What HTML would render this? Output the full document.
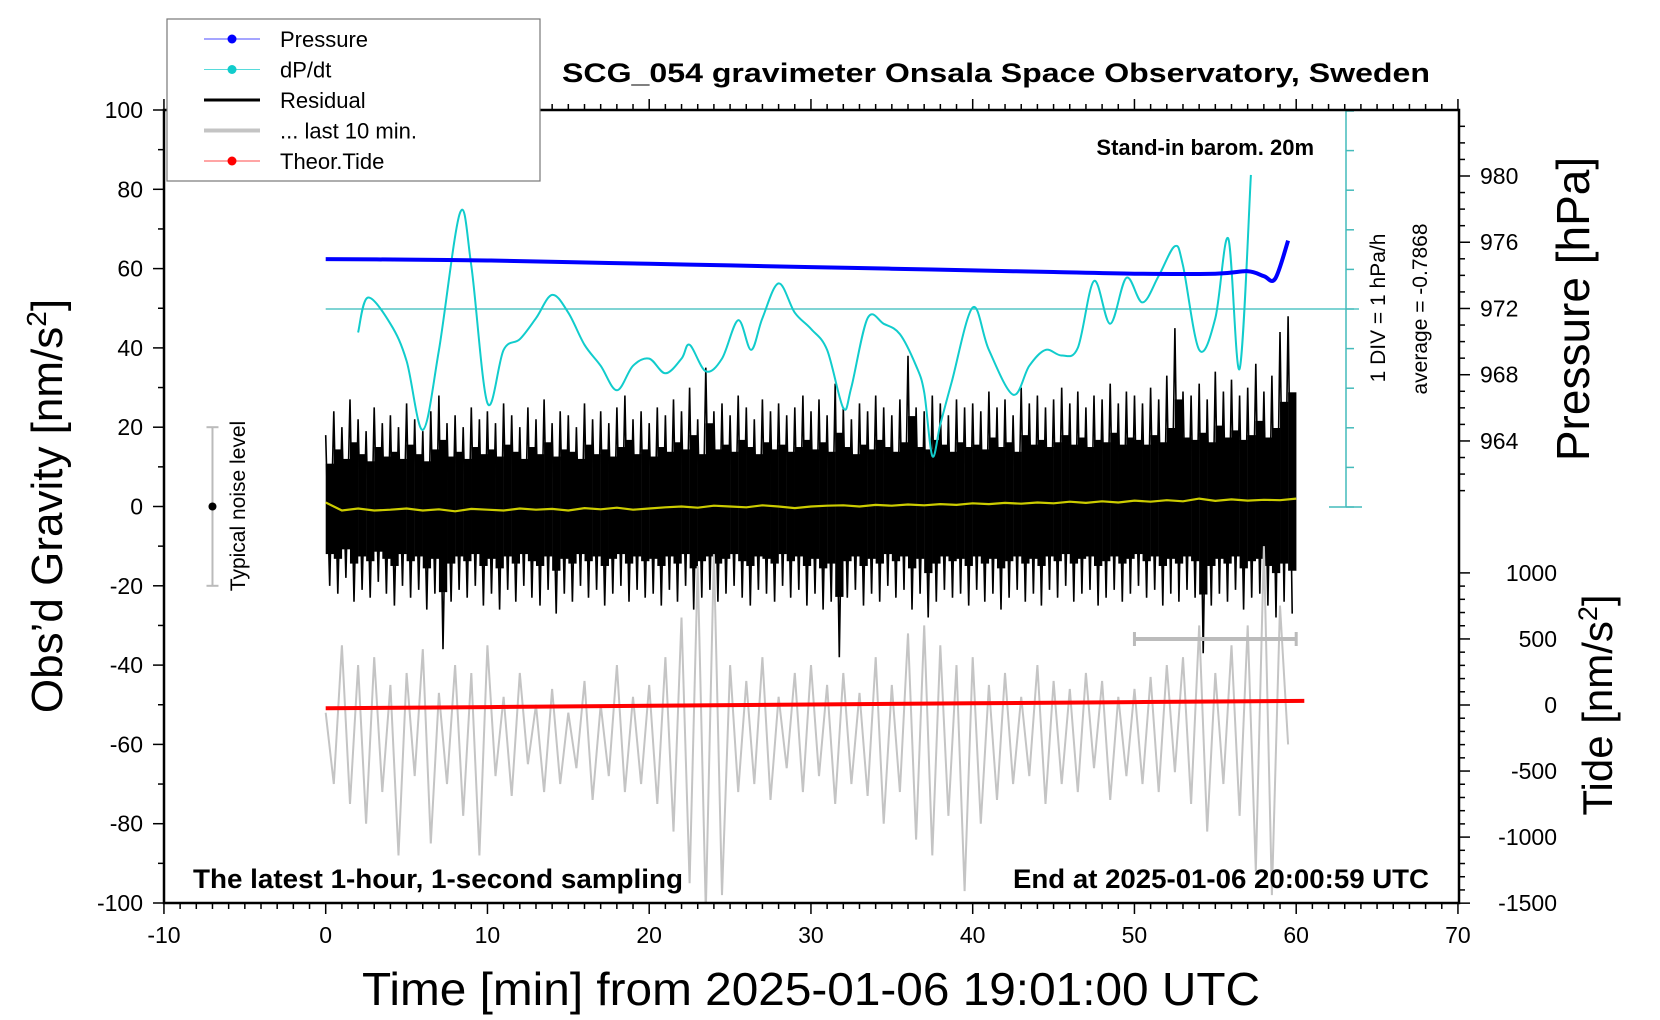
<!DOCTYPE html>
<html><head><meta charset="utf-8"><style>
html,body{margin:0;padding:0;background:#fff}
svg{display:block;font-family:"Liberation Sans",Arial,sans-serif}
</style></head><body>
<svg id="chart" width="1660" height="1020" viewBox="0 0 1660 1020" xmlns="http://www.w3.org/2000/svg">
<rect width="1660" height="1020" fill="#fff"/>
<g id="layer"></g>
</svg>
<script>
// ---- data arrays ----
const residHi=[18,24,20,27,22,19,25,21,23,20,26,22,19,24,28,21,23,20,25,22,
24,21,26,23,20,25,22,27,21,24,23,20,26,22,24,21,25,28,22,24,
21,25,23,27,24,30,22,35,24,26,23,28,25,22,27,24,26,23,25,28,
24,27,23,31,25,22,26,24,28,25,23,27,38,25,24,28,26,23,27,25,
26,24,29,25,27,23,30,26,28,25,27,30,26,29,25,28,27,31,26,29,
28,26,30,27,33,45,29,28,31,27,34,29,32,28,30,36,29,33,44,48];
const residLo=[-20,-22,-18,-24,-21,-23,-19,-22,-25,-20,-23,-21,-26,-22,-36,-24,-21,-23,-20,-25,
-22,-26,-21,-24,-20,-23,-25,-21,-27,-22,-24,-20,-23,-21,-25,-22,-20,-24,-21,-23,
-22,-25,-21,-24,-20,-26,-23,-21,-24,-22,-20,-23,-25,-21,-22,-24,-20,-23,-21,-25,
-22,-26,-24,-38,-23,-21,-25,-22,-24,-20,-23,-21,-26,-22,-28,-24,-21,-23,-22,-25,
-21,-24,-22,-26,-23,-21,-24,-22,-25,-21,-23,-20,-24,-22,-21,-25,-23,-21,-24,-22,
-20,-23,-21,-25,-22,-24,-21,-23,-37,-25,-22,-24,-21,-26,-23,-22,-25,-28,-24,-27];
const last10=[-52,-70,-35,-75,-40,-80,-38,-72,-45,-88,-42,-68,-36,-85,-47,-70,-40,-78,-42,-88,
-35,-68,-48,-73,-42,-65,-50,-72,-46,-70,-52,-66,-44,-74,-50,-68,-40,-72,-48,-70,
-45,-75,-38,-82,-28,-95,-15,-102,-12,-98,-40,-72,-44,-70,-38,-74,-48,-66,-42,-72,
-40,-68,-45,-75,-42,-70,-47,-73,-38,-80,-45,-72,-32,-84,-30,-88,-35,-78,-40,-97,
-38,-80,-45,-74,-42,-70,-48,-68,-40,-75,-44,-70,-46,-72,-42,-66,-44,-74,-48,-68,
-46,-70,-43,-72,-40,-67,-38,-75,-30,-82,-42,-70,-35,-78,-30,-92,-10,-98,-25,-60];
const smooth=[1,-1,-0.5,-1,-0.8,-0.5,-1,-0.7,-1.2,-0.6,-0.8,-1,-0.5,-0.8,-0.6,-1,-0.4,-0.7,-0.3,-0.8,-0.5,-0.2,0,-0.3,0.2,0,-0.2,0.3,0,-0.4,0,0.2,0.3,0,0.4,0.2,0.5,0.3,0.6,0.4,0.8,0.6,0.9,0.7,1,0.8,1.2,0.9,1.3,1,1.5,1.2,1.6,1.3,2,1.4,1.8,1.5,1.7,1.6,2];
const presT=[0,5,10,15,20,25,30,35,40,45,50,55,57,58,58.7,59.5];
const presV=[974.98,974.95,974.9,974.8,974.7,974.6,974.5,974.4,974.3,974.2,974.1,974.1,974.25,973.95,973.8,976.1];
const dpT=[2,2.6,4,5,6,7,8.3,9,10,11,12,13,14,15,16,17,18,19,20,21,22,22.5,23.5,24.5,25.5,26.3,27,28,29,30,31,32,32.5,33.5,34.5,35.5,36.5,37,37.5,38,38.7,40,41,42.5,43.5,44.5,45.5,46.5,47.5,48.5,49.5,50.5,51.5,52.5,53,54,55,55.8,56.5,57.2];
const dpV=[-1.38,-0.50,-1.16,-2.10,-3.84,-1.83,1.64,0.31,-3.16,-1.82,-1.55,-1.02,-0.43,-0.88,-1.69,-2.22,-2.84,-2.22,-2.04,-2.41,-2.04,-1.69,-2.36,-2.04,-1.07,-1.82,-1.02,-0.14,-0.88,-1.29,-1.82,-3.29,-2.76,-1.02,-1.16,-1.42,-2.22,-2.89,-4.50,-3.70,-2.63,-0.75,-1.82,-2.95,-2.22,-1.82,-1.96,-1.77,-0.08,-1.16,0.00,-0.62,0.05,0.80,0.31,-1.82,-1.02,0.99,-2.30,2.60];
const tideT=[0,10,20,30,40,50,60.5];
const tideV=[-25,-16,-6,4,13,22,31];
const xTicks=[-10,0,10,20,30,40,50,60,70];
const yTicks=[100,80,60,40,20,0,-20,-40,-60,-80,-100];
const pTicks=[980,976,972,968,964];
const tTicks=[1000,500,0,-500,-1000,-1500];
const dpAvg=-0.7868;

// ---- axis functions ----
const X=t=>325.7+16.175*t;
const Y=g=>110+(100-g)*3.965;
const YP=p=>176+(980-p)*16.56;
const YT=v=>705-v*0.1321;
const YD=d=>309-(d-dpAvg)*39.6;

const NS="http://www.w3.org/2000/svg";
const L=document.getElementById('layer');
function mk(tag,attrs,parent){const e=document.createElementNS(NS,tag);for(const k in attrs)e.setAttribute(k,attrs[k]);(parent||L).appendChild(e);return e;}
function txt(s,attrs){const e=mk('text',attrs);e.textContent=s;return e;}
function smoothPath(px,py){let d='M'+px[0].toFixed(1)+','+py[0].toFixed(1);
 for(let i=0;i<px.length-1;i++){const i0=Math.max(0,i-1),i3=Math.min(px.length-1,i+2);
  const c1x=px[i]+(px[i+1]-px[i0])/6,c1y=py[i]+(py[i+1]-py[i0])/6;
  const c2x=px[i+1]-(px[i3]-px[i])/6,c2y=py[i+1]-(py[i3]-py[i])/6;
  d+='C'+c1x.toFixed(1)+','+c1y.toFixed(1)+' '+c2x.toFixed(1)+','+c2y.toFixed(1)+' '+px[i+1].toFixed(1)+','+py[i+1].toFixed(1);}
 return d;}

const defs=mk('defs',{});const cp=mk('clipPath',{id:'pc'},defs);mk('rect',{x:164,y:110,width:1295,height:793},cp);

// residual dense core band
const core=mk('g',{fill:'#000'});


for(let i=0;i<residHi.length;i++){const y1=Y(residHi[i]*0.6),y2=Y(residLo[i]*0.6);mk('rect',{x:X(i*0.5),y:y1,width:8.3,height:y2-y1},core);}
// residual zigzag
let d='';
for(let i=0;i<residHi.length;i++){d+=(i?'L':'M')+X(i*0.5).toFixed(1)+','+Y(residHi[i]).toFixed(1)+'L'+X(i*0.5+0.25).toFixed(1)+','+Y(residLo[i]).toFixed(1);}
let e=mk('path',{d:d,fill:'none',stroke:'#000','stroke-width':1.6,'clip-path':'url(#pc)'});


// last 10 min (gray)
d='';
for(let i=0;i<last10.length;i++){d+=(i?'L':'M')+X(i*0.5).toFixed(1)+','+Y(last10[i]).toFixed(1);}
e=mk('path',{d:d,fill:'none',stroke:'#c4c4c4','stroke-width':2,'clip-path':'url(#pc)'});


// smoothed (yellow)
d='';
for(let i=0;i<smooth.length;i++){d+=(i?'L':'M')+X(i).toFixed(1)+','+Y(smooth[i]).toFixed(1);}
e=mk('path',{d:d,fill:'none',stroke:'#cccc00','stroke-width':2.2});


// dP/dt average line
e=mk('line',{x1:X(0),x2:1359,y1:YD(dpAvg),y2:YD(dpAvg),stroke:'#33bbbb','stroke-width':1.2});


// dP/dt curve
e=mk('path',{d:smoothPath(dpT.map(X),dpV.map(YD)),fill:'none',stroke:'#11cccc','stroke-width':2,'clip-path':'url(#pc)'});


// pressure
e=mk('path',{d:smoothPath(presT.map(X),presV.map(YP)),fill:'none',stroke:'#0000ff','stroke-width':4});


// tide
d='';
for(let i=0;i<tideT.length;i++){d+=(i?'L':'M')+X(tideT[i]).toFixed(1)+','+YT(tideV[i]).toFixed(1);}
e=mk('path',{d:d,fill:'none',stroke:'#ff0000','stroke-width':4});



// dP/dt axis
const dpg=mk('g',{stroke:'#44bbbb','stroke-width':1.5});


mk('line',{x1:1346,x2:1346,y1:110,y2:507},dpg);
mk('line',{x1:1329,x2:1362,y1:110,y2:110},dpg);
mk('line',{x1:1329,x2:1362,y1:507,y2:507},dpg);
for(let k=-5;k<=5;k++){mk('line',{x1:1346,x2:1354,y1:YD(dpAvg+k),y2:YD(dpAvg+k)},dpg);}

// frame
e=mk('rect',{x:164,y:110,width:1295,height:793,fill:'none',stroke:'#000','stroke-width':2.5});



const tg=mk('g',{stroke:'#000','stroke-width':1.5});
for(let t=-10;t<=70;t++){const maj=t%10===0;mk('line',{x1:X(t),x2:X(t),y1:903,y2:903+(maj?11:6)},tg);mk('line',{x1:X(t),x2:X(t),y1:110,y2:110-(maj?11:6)},tg);}
for(const t of xTicks){e=txt(String(t),{x:X(t),y:943,'font-size':23,'text-anchor':'middle'});

}
for(let g=-100;g<=100;g+=10){const maj=g%20===0;mk('line',{x1:164,x2:164-(maj?11:6),y1:Y(g),y2:Y(g)},tg);}
for(const g of yTicks){e=txt(String(g),{x:143,y:Y(g)+8,'font-size':23,'text-anchor':'end'});

}
for(let p=961;p<=983;p++){const maj=(p%4===0);mk('line',{x1:1459,x2:1459+(maj?11:6),y1:YP(p),y2:YP(p)},tg);}
for(const p of pTicks){e=txt(String(p),{x:1480,y:YP(p)+8,'font-size':23});

}
for(let v=-1500;v<=1000;v+=100){const maj=v%500===0;mk('line',{x1:1459,x2:1459+(maj?11:6),y1:YT(v),y2:YT(v)},tg);}
for(const v of tTicks){e=txt(String(v),{x:1557,y:YT(v)+8,'font-size':23,'text-anchor':'end'});

}

const nb=mk('g',{stroke:'#bbb','stroke-width':2});


mk('line',{x1:X(-7),x2:X(-7),y1:Y(20),y2:Y(-20)},nb);
mk('line',{x1:X(-7)-6,x2:X(-7)+6,y1:Y(20),y2:Y(20)},nb);
mk('line',{x1:X(-7)-6,x2:X(-7)+6,y1:Y(-20),y2:Y(-20)},nb);
mk('circle',{cx:X(-7),cy:Y(0),r:4,fill:'#000',stroke:'none'});
e=txt('Typical noise level',{x:0,y:0,'font-size':21,'text-anchor':'middle',transform:'translate(245,506) rotate(-90)'});



const sb=mk('g',{stroke:'#bbb','stroke-width':4});


mk('line',{x1:X(50),x2:X(60),y1:639,y2:639},sb);
mk('line',{x1:X(50),x2:X(50),y1:632,y2:646,'stroke-width':3},sb);
mk('line',{x1:X(60),x2:X(60),y1:632,y2:646,'stroke-width':3},sb);

e=txt('SCG_054 gravimeter Onsala Space Observatory, Sweden',{x:562,y:82,'font-size':27,'font-weight':'bold',textLength:868,lengthAdjust:'spacingAndGlyphs'});


e=txt('Stand-in barom. 20m',{x:1314,y:155,'font-size':22,'font-weight':'bold','text-anchor':'end'});


e=txt('The latest 1-hour, 1-second sampling',{x:193,y:888,'font-size':27,'font-weight':'bold',textLength:490,lengthAdjust:'spacingAndGlyphs'});


e=txt('End at 2025-01-06 20:00:59 UTC',{x:1013,y:888,'font-size':27,'font-weight':'bold',textLength:416,lengthAdjust:'spacingAndGlyphs'});


e=txt('Time [min] from 2025-01-06 19:01:00 UTC',{x:362,y:1005,'font-size':46,textLength:898,lengthAdjust:'spacingAndGlyphs'});


e=mk('text',{x:0,y:0,'font-size':44,'text-anchor':'middle',transform:'translate(62,506) rotate(-90)'});
e.innerHTML='Obs\u2019d Gravity [nm/s<tspan dy="-16" font-size="28">2</tspan><tspan dy="16">]</tspan>';


e=txt('Pressure [hPa]',{x:0,y:0,'font-size':46,'text-anchor':'middle',transform:'translate(1589,309) rotate(-90)'});


e=mk('text',{x:0,y:0,'font-size':42,'text-anchor':'middle',transform:'translate(1612,705) rotate(-90)'});
e.innerHTML='Tide [nm/s<tspan dy="-15" font-size="27">2</tspan><tspan dy="15">]</tspan>';


e=txt('1 DIV = 1 hPa/h',{x:0,y:0,'font-size':21,'text-anchor':'middle',transform:'translate(1385,308) rotate(-90)'});


e=txt('average = -0.7868',{x:0,y:0,'font-size':21,'text-anchor':'middle',transform:'translate(1427,309) rotate(-90)'});



const lg=mk('g',{});


mk('rect',{x:167,y:19,width:373,height:162,fill:'#fff',stroke:'#777','stroke-width':1.2},lg);
const legNames=['Pressure','dP/dt','Residual','... last 10 min.','Theor.Tide'];
const legCols=['#0000ff','#11cccc','#000','#c4c4c4','#ff0000'];
const legW=[1,1,3,4,1];
const legDot=[true,true,false,false,true];
for(let i=0;i<5;i++){const y=39+i*30.5;
 const it=mk('g',{},lg);
 
 
 mk('line',{x1:204,x2:260,y1:y,y2:y,stroke:legCols[i],'stroke-width':legW[i],opacity:legDot[i]?0.7:1},it);
 if(legDot[i])mk('circle',{cx:232,cy:y,r:4.5,fill:legCols[i]},it);
 const t=mk('text',{x:280,y:y+8,'font-size':22},it);t.textContent=legNames[i];}
</script>
</body></html>
